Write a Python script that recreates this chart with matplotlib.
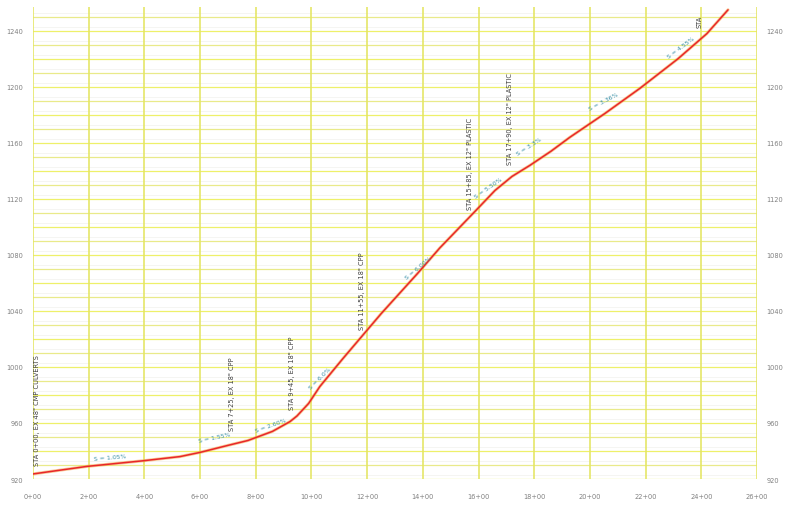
import numpy as np
import matplotlib.pyplot as plt

# profile of existing ground (station ft, elevation ft)
stations = [0, 194, 395, 528, 600, 700, 772, 860, 923, 948, 990, 1030, 1113,
            1250, 1382, 1461, 1587, 1659, 1720, 1785, 1860, 1928, 2054, 2180,
            2316, 2420, 2496]
elev = [923.6, 929, 933, 936, 939, 944, 947.5, 954, 961, 965, 974, 986, 1006,
        1038, 1067, 1085, 1111, 1126, 1136, 1144, 1154, 1164, 1181, 1199,
        1220, 1238, 1255]

# culvert call-outs
culv_sta = [15, 715, 930, 1181, 1569, 1713, 2395]
culv_elev = [930, 955, 970, 1027, 1113, 1145, 1243]
culv_text = ['STA 0+00, EX 48" CMP CULVERTS', 'STA 7+25, EX 18" CPP',
             'STA 9+45, EX 18" CPP', 'STA 11+55, EX 18" CPP',
             'STA 15+85, EX 12" PLASTIC', 'STA 17+90, EX 12" PLASTIC', 'STA']

# slope call-outs
slope_sta = [276, 653, 858, 1038, 1390, 1641, 1785, 2054, 2334]
slope_elev = [934, 948, 957, 991, 1070, 1127, 1156, 1188, 1227]
slope_text = ['S = 1.05%', 'S = 1.55%', 'S = 2.60%', 'S = 6.0%', 'S = 6.00%',
              'S = 5.50%', 'S = 3.3%', 'S = 3.36%', 'S = 4.55%']
slope_rot = [5, 12, 20, 45, 40, 35, 33, 28, 37]

y_ticks = list(range(920, 1241, 40))
x_ticks = list(range(0, 2601, 200))
x_labels = ['%d+00' % (s // 100) for s in x_ticks]

fig = plt.figure(figsize=(7.95, 5.06), dpi=100)
ax = fig.add_axes([33 / 795, 1 - 480 / 506, (757 - 33) / 795, (480 - 8) / 506])
ax.set_xlim(0, 2600)
ax.set_ylim(920, 1257)

# graph-paper grid
for i, y in enumerate(range(920, 1258, 10)):
    c = '#eef06a' if i % 2 == 0 else '#e9ea8a'
    ax.axhline(y, color=c, lw=0.9, zorder=1)
    ax.axhline(y + 3, color='#d8d8cc', lw=0.4, alpha=0.45, zorder=1)
for x in x_ticks:
    ax.axvline(x, color='#ecee5a', lw=1.1, zorder=1)
    ax.axvline(x, color='#a8a890', lw=0.25, alpha=0.5, zorder=1)

ax.plot(stations, elev, color='#f5a040', lw=2.2, alpha=0.55, zorder=3,
        solid_capstyle='round')
ax.plot(stations, elev, color='#e8262a', lw=1.1, zorder=4,
        solid_capstyle='round')

for s, e, t in zip(culv_sta, culv_elev, culv_text):
    ax.text(s, e, t, rotation=90, fontsize=4.8, color='#404040',
            ha='center', va='bottom', zorder=5)

for s, e, t, r in zip(slope_sta, slope_elev, slope_text, slope_rot):
    ax.text(s, e, t, rotation=r, fontsize=4.4, color='#3a90a8',
            ha='center', va='bottom', rotation_mode='anchor', zorder=5)

for sp in ax.spines.values():
    sp.set_visible(False)
ax.tick_params(length=0)
ax.set_xticks(x_ticks)
ax.set_xticklabels(x_labels, fontsize=4.8, color='#808080')
ax.tick_params(axis='x', pad=10)
ax.set_yticks(y_ticks)
ax.set_yticklabels([str(v) for v in y_ticks], fontsize=4.8, color='#808080')
ax.tick_params(axis='y', pad=7)
ax.tick_params(labelright=True)

fig.savefig('out.png', dpi=100, facecolor='white')
